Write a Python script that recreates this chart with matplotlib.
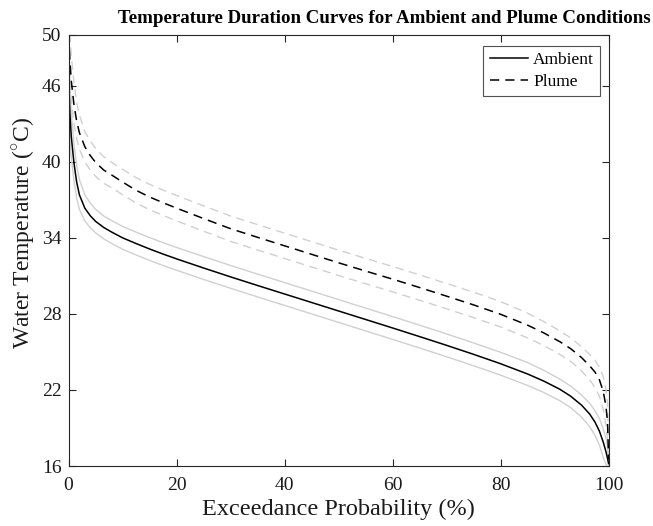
import numpy as np
import matplotlib
matplotlib.use("Agg")
import matplotlib.pyplot as plt

# =============================
# DATA
# =============================

exceed_pct = [0, 0.25, 0.5, 1, 1.5, 2, 3, 4, 5, 6.5,
              8, 10, 12.5, 15, 17.5, 20, 22.5, 25, 30, 35,
              40, 45, 50, 55, 60, 65, 70, 75, 80, 85,
              88, 91, 93, 95, 96.5, 97.5, 98.3, 99, 99.5, 99.8,
              100]

ambient = [46.5, 43.8, 42.0, 39.9, 38.4, 37.4, 36.35, 35.75, 35.3, 34.82,
           34.45, 34.0, 33.55, 33.12, 32.72, 32.34, 31.98, 31.62, 30.92, 30.24,
           29.57, 28.9, 28.23, 27.56, 26.89, 26.21, 25.52, 24.81, 24.07, 23.26,
           22.7, 22.05, 21.5, 20.8, 20.1, 19.45, 18.75, 17.9, 17.15, 16.6,
           16.2]
ambient_hi = [50.0, 46.0, 43.8, 41.4, 39.7, 38.6, 37.4, 36.75, 36.25, 35.72,
              35.35, 34.9, 34.45, 34.02, 33.62, 33.24, 32.88, 32.52, 31.82, 31.14,
              30.47, 29.8, 29.13, 28.46, 27.79, 27.11, 26.42, 25.71, 24.97, 24.16,
              23.55, 22.85, 22.3, 21.6, 20.95, 20.35, 19.75, 18.95, 18.2, 17.5,
              16.5]
ambient_lo = [44.0, 41.8, 40.4, 38.5, 37.15, 36.25, 35.35, 34.8, 34.4, 33.92,
              33.55, 33.1, 32.65, 32.22, 31.82, 31.44, 31.08, 30.72, 30.02, 29.34,
              28.67, 28.0, 27.33, 26.66, 25.99, 25.31, 24.62, 23.91, 23.17, 22.36,
              21.8, 21.15, 20.6, 19.85, 19.1, 18.4, 17.65, 16.7, 16.15, 16.0,
              15.9]

plume = [50.0, 48.0, 46.4, 44.5, 43.2, 42.3, 41.2, 40.5, 39.95, 39.35,
         38.95, 38.4, 37.75, 37.22, 36.77, 36.34, 35.93, 35.52, 34.72, 34.04,
         33.37, 32.7, 32.03, 31.38, 30.74, 30.08, 29.4, 28.71, 27.97, 27.11,
         26.5, 25.8, 25.25, 24.55, 23.9, 23.4, 22.8, 21.9, 20.75, 19.5,
         16.5]
plume_hi = [50.0, 50.0, 48.4, 46.3, 44.7, 43.7, 42.4, 41.65, 41.05, 40.4,
            39.95, 39.4, 38.75, 38.22, 37.77, 37.34, 36.93, 36.52, 35.72, 35.04,
            34.37, 33.7, 33.03, 32.38, 31.74, 31.08, 30.4, 29.71, 28.97, 28.06,
            27.4, 26.65, 26.1, 25.4, 24.8, 24.35, 23.8, 23.05, 22.1, 21.0,
            17.5]
plume_lo = [48.5, 46.3, 44.9, 43.0, 41.8, 41.0, 40.0, 39.35, 38.85, 38.3,
            37.95, 37.4, 36.75, 36.22, 35.77, 35.34, 34.93, 34.52, 33.72, 33.04,
            32.37, 31.7, 31.03, 30.38, 29.74, 29.08, 28.4, 27.71, 26.97, 26.11,
            25.5, 24.8, 24.25, 23.5, 22.8, 22.2, 21.5, 20.5, 19.25, 18.0,
            16.0]

x_ticks = [0, 20, 40, 60, 80, 100]
y_ticks = [16, 22, 28, 34, 40, 46, 50]

# =============================
# PLOT
# =============================

plt.rcParams["font.family"] = ["Liberation Serif", "DejaVu Serif"]
plt.rcParams["mathtext.fontset"] = "custom"
plt.rcParams["mathtext.rm"] = "Liberation Serif"
axis_col = "#262626"
text_col = "#1a1a1a"
band_col = "#d0d0d0"
dash = (0, (6, 4))

fig = plt.figure(figsize=(6.53, 5.26), dpi=100)
ax = fig.add_axes([0.105, 0.114, 0.827, 0.8195])

# uncertainty bands (light gray)
ax.plot(exceed_pct, ambient_hi, color=band_col, lw=1.0)
ax.plot(exceed_pct, ambient_lo, color=band_col, lw=1.0)
ax.plot(exceed_pct, plume_hi, color=band_col, lw=1.0, ls=dash)
ax.plot(exceed_pct, plume_lo, color=band_col, lw=1.0, ls=dash)

# main curves
ax.plot(exceed_pct, ambient, color="black", lw=1.1, label="Ambient")
ax.plot(exceed_pct, plume, color="black", lw=1.1, ls=dash, label="Plume")

ax.set_xlim(0, 100)
ax.set_ylim(16, 50)
ax.set_xticks(x_ticks)
ax.set_yticks(y_ticks)
ax.tick_params(direction="in", top=True, right=True, length=5, width=0.8,
               colors=axis_col, labelsize=14, labelcolor=text_col)
ax.tick_params(axis="x", pad=8)
ax.tick_params(axis="y", pad=5)
for sp in ax.spines.values():
    sp.set_color(axis_col)
    sp.set_linewidth(0.8)

ax.set_xlabel("Exceedance Probability (%)", fontsize=17.5, color=text_col, labelpad=3)
ax.set_ylabel("Water Temperature ($^{\\circ}$C)", fontsize=17, color=text_col)
ax.yaxis.set_label_coords(-0.057, 0.54)

fig.text(0.588, 0.964, "Temperature Duration Curves for Ambient and Plume Conditions",
         ha="center", va="center", fontsize=13.6, fontweight="bold")

leg = ax.legend(loc="upper right", fontsize=12.5, handlelength=2.2, handletextpad=0.3,
                borderpad=0.35, labelspacing=0.3, fancybox=False,
                bbox_to_anchor=(1.0, 0.994))
leg.get_frame().set_edgecolor(axis_col)
leg.get_frame().set_linewidth(0.8)

fig.savefig("out.png", dpi=100)
